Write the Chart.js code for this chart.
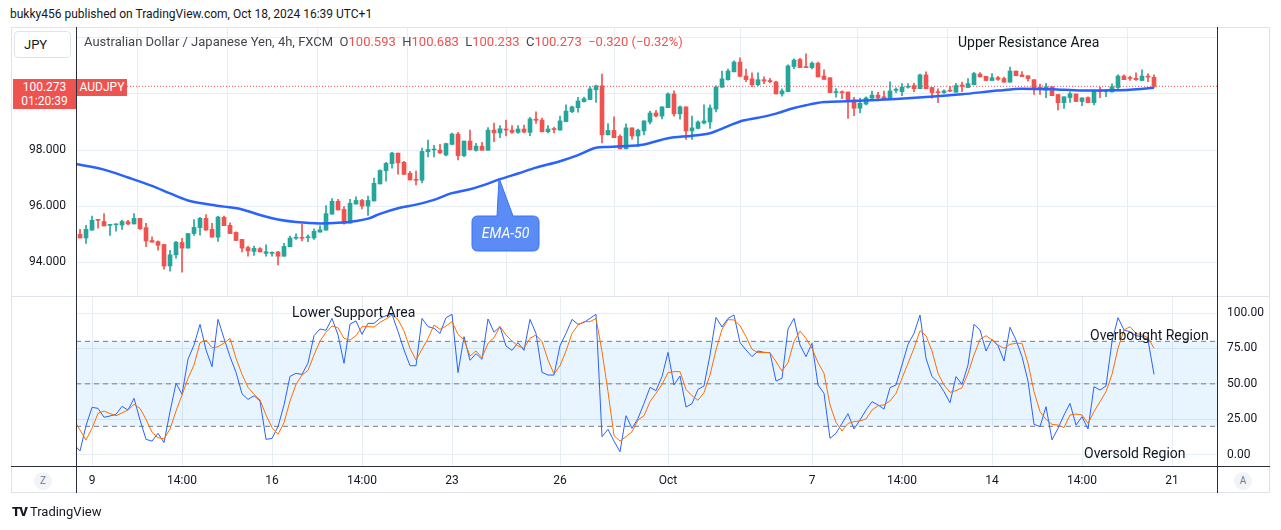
<!DOCTYPE html>
<html lang="en">
<head>
  <meta charset="UTF-8">
  <meta name="viewport" content="width=device-width, initial-scale=1.0">
  <title>AUDJPY 4h - EMA-50 / Stochastic</title>
  <script src="https://cdn.jsdelivr.net/npm/chart.js"></script>
  <style>
    body { margin: 0; background: #fff; font-family: Roboto, "Liberation Sans", Arial, sans-serif; color: #131722; }
    #stage { position: relative; width: 1281px; height: 530px; overflow: hidden; }
    .abs { position: absolute; white-space: nowrap; }
    .note { position: absolute; font-size: 14px; line-height: 16px; color: #131722; white-space: nowrap; }
    .red { color: #ef5350; }
    .btn { position: absolute; width: 18px; height: 18px; border-radius: 50%; background: #f0f3fa; color: #787b86; font-size: 10px; line-height: 18px; text-align: center; }
  </style>
</head>

<body>
  <div id="stage">
    <div class="abs" style="left:10px;top:6px;font-size:12px;line-height:16px;">bukky456 published on TradingView.com, Oct 18, 2024 16:39 UTC+1</div>

    <!-- outer frame -->
    <div class="abs" style="left:11px;top:27px;width:1259px;height:466px;border:1px solid #e0e3eb;box-sizing:border-box;"></div>

    <canvas id="priceChart" class="abs" width="1281" height="269" style="left:0;top:27px;"></canvas>
    <canvas id="stochChart" class="abs" width="1281" height="196" style="left:0;top:297px;"></canvas>

    <!-- pane borders -->
    <div class="abs" style="left:11px;top:296px;width:1259px;height:1px;background:#e0e3eb;"></div>
    <div class="abs" style="left:11px;top:466px;width:1259px;height:1px;background:#2a2e39;"></div>
    <div class="abs" style="left:76px;top:27px;width:1px;height:466px;background:#2a2e39;"></div>
    <div class="abs" style="left:1217px;top:27px;width:1px;height:466px;background:#2a2e39;"></div>

    <!-- symbol / legend -->
    <div class="abs" style="left:14px;top:31px;width:57px;height:27px;border:1px solid #e0e3eb;border-radius:4px;box-sizing:border-box;background:#fff;font-size:13px;line-height:25px;padding-left:9px;">JPY</div>
    <div class="abs" style="left:84px;top:34px;font-size:13px;line-height:16px;color:#434651;">Australian Dollar / Japanese Yen, 4h, FXCM&nbsp; O<span class="red">100.593</span>&nbsp; H<span class="red">100.683</span>&nbsp; L<span class="red">100.233</span>&nbsp; C<span class="red">100.273</span>&nbsp; <span class="red">−0.320 (−0.32%)</span></div>

    <!-- last price labels -->
    <div class="abs" style="left:13px;top:79px;width:63px;height:30px;background:#ef5350;color:#fff;font-size:12px;line-height:14px;text-align:center;padding-top:1px;box-sizing:border-box;">100.273<br>01:20:39</div>
    <div class="abs" style="left:77px;top:79px;width:50px;height:17px;background:#ef5350;color:#fff;font-size:12px;line-height:17px;text-align:center;">AUDJPY</div>

    <!-- annotations -->
    <div class="note" style="left:958px;top:34px;">Upper Resistance Area</div>
    <div class="note" style="left:292px;top:304px;">Lower Support Area</div>
    <div class="note" style="left:1090px;top:327px;">Overbought Region</div>
    <div class="note" style="left:1084px;top:445px;">Oversold Region</div>

    <svg class="abs" style="left:0;top:0;" width="1281" height="530">
      <path d="M478,216 H497 L499,178 L513,216 H533 Q539,216 539,222 V245 Q539,251 533,251 H478 Q472,251 472,245 V222 Q472,216 478,216 Z"
        fill="#5b8cf6" stroke="#3a72f2" stroke-width="1" />
    </svg>
    <div class="abs" style="left:472px;top:225px;width:67px;text-align:center;font-size:14px;line-height:17px;font-style:italic;color:#fff;">EMA-50</div>

    <!-- bottom buttons / logo -->
    <div class="btn" style="left:34px;top:472px;">Z</div>
    <div class="btn" style="left:1234px;top:472px;">A</div>
    <div class="abs" style="left:12px;top:504px;font-size:13px;line-height:16px;"><b style="font-weight:900;letter-spacing:-1px;">TV</b> TradingView</div>
  </div>

  <script>
    // candles, 4h, oldest first
    const OPEN = [94.99, 94.86, 95.14, 95.52, 95.45, 95.31, 95.33, 95.32, 95.44, 95.36,
      95.56, 95.23, 94.77, 94.73, 94.63, 93.86, 94.26, 94.70, 94.50, 95.02,
      95.23, 95.56, 95.17, 94.89, 95.60, 95.31, 95.06, 94.81, 94.52, 94.38,
      94.48, 94.31, 94.31, 94.36, 94.21, 94.55, 94.85, 94.88, 94.87, 94.86,
      95.07, 95.14, 95.71, 96.17, 95.88, 95.39, 96.07, 96.20, 96.00, 96.18,
      96.79, 97.26, 97.51, 97.89, 97.56, 97.17, 96.95, 96.92, 97.94, 98.00,
      98.00, 97.82, 98.20, 98.57, 97.80, 98.32, 97.99, 98.14, 97.99, 98.71,
      98.61, 98.75, 98.71, 98.63, 98.75, 98.63, 99.10, 99.07, 98.65, 98.75,
      98.71, 99.01, 99.37, 99.51, 99.73, 99.80, 100.15, 100.29, 98.54, 98.70,
      98.49, 98.04, 98.79, 98.50, 98.68, 99.00, 99.32, 99.21, 99.51, 100.00,
      99.29, 99.54, 98.68, 98.77, 98.96, 99.00, 99.46, 100.24, 100.51, 100.79,
      101.14, 100.64, 100.54, 100.33, 100.51, 100.48, 100.43, 100.00, 100.08, 100.98,
      101.23, 100.96, 100.94, 101.10, 100.64, 100.58, 100.05, 100.08, 100.07, 99.79,
      99.49, 99.64, 99.85, 99.96, 99.90, 99.82, 100.13, 100.08, 100.24, 100.30,
      100.19, 100.68, 100.23, 100.08, 100.05, 100.13, 100.06, 100.32, 100.23, 100.33,
      100.71, 100.63, 100.48, 100.58, 100.55, 100.42, 100.82, 100.68, 100.65, 100.51,
      100.24, 100.14, 100.26, 99.98, 99.69, 99.87, 100.00, 99.73, 99.87, 99.69,
      100.12, 100.08, 100.07, 100.23, 100.64, 100.58, 100.56, 100.48, 100.64, 100.593];
    const HIGH = [95.17, 95.31, 95.64, 95.53, 95.73, 95.33, 95.37, 95.50, 95.49, 95.73,
      95.56, 95.38, 94.90, 94.76, 94.63, 94.42, 94.74, 94.85, 95.02, 95.52,
      95.60, 95.70, 95.38, 95.63, 95.64, 95.40, 95.08, 94.81, 94.57, 94.57,
      94.52, 94.62, 94.37, 94.38, 94.67, 94.93, 95.01, 95.35, 94.97, 95.19,
      95.29, 96.02, 96.27, 96.24, 95.98, 96.24, 96.33, 96.24, 96.36, 97.00,
      97.29, 97.56, 97.92, 97.89, 97.60, 97.24, 97.25, 98.07, 98.35, 98.17,
      98.20, 98.25, 98.60, 98.63, 98.32, 98.71, 98.24, 98.27, 98.80, 98.96,
      98.87, 99.07, 98.87, 98.87, 98.89, 99.17, 99.36, 99.14, 98.87, 98.82,
      99.21, 99.61, 99.57, 99.88, 99.89, 100.26, 100.32, 100.71, 98.94, 99.18,
      98.54, 98.93, 98.79, 98.75, 99.04, 99.39, 99.42, 99.54, 100.04, 100.11,
      99.58, 99.54, 99.21, 99.04, 99.61, 99.61, 100.29, 100.82, 100.89, 101.18,
      101.29, 100.89, 100.75, 100.75, 100.61, 100.56, 100.46, 100.18, 101.04, 101.25,
      101.27, 101.43, 101.15, 101.14, 100.86, 100.58, 100.19, 100.11, 100.07, 99.88,
      99.85, 99.90, 100.10, 100.06, 100.10, 100.43, 100.22, 100.37, 100.37, 100.38,
      100.71, 100.79, 100.23, 100.18, 100.15, 100.27, 100.38, 100.42, 100.55, 100.77,
      100.76, 100.63, 100.73, 100.63, 100.60, 100.96, 100.82, 100.80, 100.65, 100.51,
      100.35, 100.38, 100.26, 99.98, 99.90, 100.08, 100.00, 99.86, 99.90, 100.12,
      100.25, 100.14, 100.36, 100.68, 100.68, 100.64, 100.75, 100.86, 100.73, 100.683];
    const LOW = [94.86, 94.67, 95.14, 95.21, 95.29, 94.95, 95.10, 95.17, 95.33, 95.36,
      95.17, 94.55, 94.71, 94.43, 93.75, 93.68, 94.14, 93.64, 94.50, 94.95,
      94.96, 95.14, 94.89, 94.74, 95.30, 95.02, 94.77, 94.36, 94.21, 94.24,
      94.36, 94.21, 94.21, 93.90, 94.21, 94.55, 94.81, 94.76, 94.73, 94.81,
      95.07, 95.14, 95.71, 95.86, 95.35, 95.39, 96.07, 95.90, 95.67, 96.18,
      96.79, 96.89, 97.35, 97.14, 97.13, 96.93, 96.75, 96.83, 97.75, 97.75,
      97.87, 97.79, 98.20, 97.65, 97.76, 97.99, 97.96, 97.99, 97.99, 98.30,
      98.44, 98.50, 98.59, 98.59, 98.61, 98.51, 98.95, 98.65, 98.61, 98.61,
      98.71, 99.01, 99.33, 99.35, 99.71, 99.80, 99.70, 98.25, 98.54, 98.44,
      98.04, 98.04, 98.39, 98.12, 98.54, 98.93, 99.18, 99.11, 99.51, 99.21,
      99.10, 98.38, 98.38, 98.75, 98.93, 98.77, 99.36, 100.24, 100.49, 100.79,
      100.61, 100.44, 100.26, 100.29, 100.37, 100.39, 100.00, 99.92, 100.08, 100.90,
      100.94, 100.94, 100.89, 100.61, 100.52, 100.05, 99.89, 99.83, 99.13, 99.23,
      99.32, 99.61, 99.83, 99.75, 99.83, 99.82, 100.05, 99.94, 100.21, 100.08,
      100.19, 100.19, 99.85, 99.69, 100.02, 100.08, 100.06, 100.08, 100.23, 100.33,
      100.61, 100.48, 100.48, 100.48, 100.42, 100.42, 100.65, 100.62, 100.46, 99.98,
      99.98, 99.87, 99.94, 99.43, 99.48, 99.70, 99.73, 99.58, 99.69, 99.61,
      99.87, 99.90, 100.07, 100.12, 100.51, 100.48, 100.48, 100.48, 100.44, 100.233];
    const CLOSE = [94.86, 95.17, 95.49, 95.49, 95.29, 95.33, 95.35, 95.45, 95.36, 95.56,
      95.19, 94.75, 94.71, 94.60, 93.86, 94.26, 94.71, 94.50, 95.02, 95.24,
      95.56, 95.14, 94.89, 95.61, 95.30, 95.02, 94.77, 94.50, 94.40, 94.49,
      94.36, 94.37, 94.35, 94.21, 94.56, 94.86, 94.89, 94.85, 94.90, 95.10,
      95.15, 95.73, 96.17, 95.86, 95.38, 96.10, 96.20, 96.00, 96.20, 96.81,
      97.27, 97.52, 97.89, 97.54, 97.13, 96.93, 96.92, 97.95, 98.02, 98.02,
      97.90, 98.23, 98.57, 97.80, 98.32, 98.01, 98.14, 97.99, 98.71, 98.61,
      98.76, 98.71, 98.63, 98.75, 98.64, 99.11, 99.06, 98.65, 98.75, 98.73,
      99.04, 99.39, 99.54, 99.75, 99.83, 100.18, 100.29, 98.54, 98.70, 98.44,
      98.04, 98.79, 98.50, 98.71, 99.04, 99.32, 99.21, 99.54, 100.00, 99.29,
      99.54, 98.68, 98.79, 99.00, 99.04, 99.50, 100.25, 100.54, 100.82, 101.14,
      100.63, 100.51, 100.33, 100.51, 100.46, 100.44, 100.00, 100.11, 101.00, 101.21,
      100.94, 100.94, 101.10, 100.61, 100.52, 100.05, 100.08, 100.04, 99.79, 99.49,
      99.67, 99.86, 99.96, 99.87, 99.83, 100.11, 100.17, 100.25, 100.27, 100.19,
      100.68, 100.19, 100.05, 100.05, 100.11, 100.10, 100.30, 100.27, 100.37, 100.73,
      100.61, 100.48, 100.58, 100.52, 100.42, 100.82, 100.65, 100.62, 100.55, 100.15,
      100.19, 100.26, 99.94, 99.69, 99.90, 100.01, 99.73, 99.86, 99.69, 100.12,
      100.08, 100.12, 100.26, 100.64, 100.51, 100.55, 100.51, 100.64, 100.60, 100.273];
    const LAST_PRICE = 100.273;

    // EMA-50 at these candle positions
    const EMA_X = [-0.67, 4, 8, 12, 15, 18, 21, 24, 27, 30, 33, 36, 40, 43, 46, 48, 50, 53, 56, 59,
      62, 65, 67, 70, 73, 76, 80, 83, 86, 88, 90, 94, 98, 102, 105, 108, 110, 113, 116, 119,
      121, 124, 128, 132, 136, 141, 147, 153, 157, 162, 167, 172, 175, 179];
    const EMA_Y = [97.50, 97.30, 97.02, 96.72, 96.45, 96.20, 96.07, 95.98, 95.88, 95.68, 95.52, 95.43, 95.38, 95.40, 95.47, 95.55, 95.72, 95.92, 96.05, 96.22,
      96.46, 96.60, 96.73, 96.96, 97.16, 97.37, 97.60, 97.82, 98.08, 98.11, 98.13, 98.20, 98.42, 98.51, 98.60, 98.85, 99.02, 99.15, 99.30, 99.50,
      99.60, 99.71, 99.74, 99.78, 99.82, 99.89, 99.99, 100.12, 100.19, 100.17, 100.12, 100.13, 100.15, 100.22];

    // stochastic, first value belongs to the candle just left of the view
    const STOCH_START = -1;
    const STOCH_K = [7.1,
      2.6, 20.5, 33.4, 32.7, 26.4, 27.3, 28.5, 34.1, 31.5, 39.8,
      24.5, 10.8, 9.6, 15.1, 8.5, 30.4, 50.4, 42.6, 67.5, 77.4,
      92.0, 73.9, 62.1, 95.5, 82.1, 69.2, 58.1, 43.0, 39.0, 41.6,
      37.9, 10.8, 11.5, 19.8, 35.1, 55.3, 57.4, 56.7, 64.7, 84.0,
      88.7, 87.8, 96.2, 84.5, 64.5, 92.2, 94.4, 84.9, 92.7, 92.7,
      96.2, 98.1, 99.1, 87.0, 73.9, 62.8, 62.8, 96.2, 90.4, 89.2,
      85.6, 96.7, 99.1, 57.9, 83.3, 66.6, 71.3, 67.3, 95.8, 86.4,
      90.4, 76.7, 73.6, 79.1, 73.6, 95.5, 85.6, 58.1, 56.2, 56.2,
      76.9, 85.6, 95.5, 92.0, 93.4, 96.2, 99.1, 12.7, 17.9, 9.6,
      2.1, 27.5, 18.6, 25.6, 36.2, 47.5, 45.2, 55.1, 72.2, 49.2,
      55.5, 33.6, 36.0, 46.1, 48.5, 70.4, 96.9, 90.1, 96.2, 98.6,
      79.1, 73.9, 69.2, 73.2, 72.2, 72.0, 52.0, 53.9, 88.7, 96.2,
      77.4, 69.2, 78.6, 49.2, 43.3, 11.5, 15.1, 22.1, 28.9, 18.1,
      24.5, 31.5, 37.4, 35.1, 32.2, 47.3, 49.2, 63.3, 77.9, 85.6,
      98.6, 68.0, 55.1, 51.1, 44.5, 36.7, 55.1, 49.6, 63.3, 92.0,
      88.0, 73.2, 81.4, 76.9, 66.1, 89.9, 80.9, 69.2, 52.0, 21.4,
      19.8, 33.9, 10.4, 18.6, 28.0, 36.2, 20.9, 26.8, 18.1, 48.0,
      45.6, 48.5, 79.8, 96.7, 88.0, 86.8, 84.0, 83.3, 80.9, 56.7];
    const STOCH_D = [24.3,
      17.4, 10.4, 18.6, 29.2, 30.8, 29.0, 27.5, 29.5, 31.5, 35.5,
      32.7, 24.9, 15.8, 12.0, 11.1, 18.1, 30.8, 42.1, 53.9, 63.3,
      79.1, 80.9, 75.5, 76.2, 78.8, 82.1, 68.0, 56.7, 47.5, 42.6,
      38.6, 28.0, 19.1, 14.4, 22.6, 37.9, 49.6, 56.2, 59.5, 70.4,
      80.2, 86.4, 90.8, 89.6, 82.1, 80.9, 84.0, 90.4, 90.4, 90.1,
      93.4, 95.8, 98.6, 95.5, 87.3, 75.1, 66.8, 74.4, 82.1, 91.5,
      88.5, 90.8, 93.9, 84.9, 80.9, 69.6, 73.2, 68.5, 78.6, 82.6,
      90.4, 84.5, 80.2, 76.7, 75.1, 82.1, 84.5, 79.8, 66.8, 56.9,
      62.8, 73.2, 85.6, 91.5, 93.9, 93.9, 96.2, 72.7, 44.5, 13.4,
      9.6, 12.7, 16.2, 24.5, 27.5, 37.4, 43.3, 49.6, 57.9, 58.6,
      58.6, 46.1, 41.6, 38.4, 43.8, 56.2, 73.9, 88.5, 95.3, 95.1,
      91.1, 83.3, 74.4, 72.0, 72.2, 72.0, 65.6, 59.1, 64.9, 79.8,
      87.3, 82.1, 75.1, 65.0, 57.4, 35.1, 22.8, 16.7, 22.1, 23.3,
      23.8, 25.2, 31.5, 34.6, 35.1, 37.9, 43.3, 53.9, 64.5, 75.1,
      87.5, 84.0, 73.2, 57.4, 49.2, 44.0, 45.2, 47.3, 57.4, 70.4,
      81.4, 84.0, 80.9, 77.4, 75.1, 77.9, 78.6, 78.6, 64.5, 44.5,
      30.4, 24.9, 21.4, 20.9, 19.1, 28.0, 28.7, 28.0, 22.1, 30.4,
      37.4, 44.5, 56.7, 75.1, 88.0, 90.4, 85.6, 84.5, 82.6, 75.1];

    const TIME_TICKS = [2, 17, 32, 47, 62, 80, 98, 122, 137, 152, 167, 182];
    const TIME_LABELS = ['9', '14:00', '16', '14:00', '23', '26', 'Oct', '7', '14:00', '14', '14:00', '21'];
    const PRICE_TICKS = [94, 96, 98, 100, 102];
    const STOCH_TICKS = [0, 25, 50, 75, 100];
    const STOCH_LEVELS = [80, 50, 20];

    // view range
    const X_MIN = -0.67, X_MAX = 189.5;
    const UP = '#26a69a', DOWN = '#ef5350', GRID = '#e6edf3';
    const FONT = 'Roboto, "Liberation Sans", Arial, sans-serif';
    Chart.defaults.font.family = FONT;
    Chart.defaults.color = '#131722';

    const candleColor = ctx => CLOSE[ctx.dataIndex] >= OPEN[ctx.dataIndex] ? UP : DOWN;
    const flatPad = s => { s.paddingTop = 0; s.paddingBottom = 0; s.paddingLeft = 0; s.paddingRight = 0; };

    // price pane
    new Chart(document.getElementById('priceChart'), {
      type: 'bar',
      data: {
        datasets: [
          {
            type: 'line', label: 'EMA-50',
            data: EMA_X.map((x, k) => ({ x, y: EMA_Y[k] })),
            borderColor: '#2962ff', borderWidth: 2.5, pointRadius: 0,
            cubicInterpolationMode: 'monotone', clip: 0, order: 0
          },
          {
            label: 'body',
            data: OPEN.map((o, i) => ({ x: i, y: [o, CLOSE[i]] })),
            backgroundColor: candleColor, barThickness: 4, minBarLength: 1, grouped: false, order: 1
          },
          {
            label: 'wick',
            data: LOW.map((l, i) => ({ x: i, y: [l, HIGH[i]] })),
            backgroundColor: candleColor, barThickness: 1, grouped: false, order: 2
          },
          {
            type: 'line', label: 'last',
            data: [{ x: X_MIN, y: LAST_PRICE }, { x: X_MAX, y: LAST_PRICE }],
            borderColor: DOWN, borderWidth: 1, borderDash: [1, 2], pointRadius: 0, order: 3
          }
        ]
      },
      options: {
        responsive: false,
        animation: false,
        layout: { padding: { left: 0, right: 64, top: 0, bottom: 0 } },
        plugins: { legend: { display: false }, tooltip: { enabled: false } },
        scales: {
          x: {
            type: 'linear', min: X_MIN, max: X_MAX, offset: false,
            afterBuildTicks: s => { s.ticks = TIME_TICKS.map(v => ({ value: v })); },
            ticks: { display: false },
            grid: { color: GRID, drawTicks: false },
            border: { display: false },
            afterFit: s => { s.height = 0; flatPad(s); }
          },
          y: {
            position: 'left', min: 92.79, max: 102.39,
            afterBuildTicks: s => { s.ticks = PRICE_TICKS.map(v => ({ value: v })); },
            ticks: {
              padding: 10, color: '#131722', font: { size: 12 },
              callback: v => (v >= 100 ? '' : v.toFixed(3))
            },
            grid: { color: GRID, drawTicks: false },
            border: { display: false },
            afterFit: s => { s.width = 76; flatPad(s); }
          }
        }
      }
    });

    // stochastic pane
    const kPoints = STOCH_K.map((v, k) => ({ x: STOCH_START + k, y: v }));
    const dPoints = STOCH_D.map((v, k) => ({ x: STOCH_START + k, y: v }));
    const levelLine = lvl => [{ x: X_MIN, y: lvl }, { x: X_MAX, y: lvl }];

    new Chart(document.getElementById('stochChart'), {
      type: 'line',
      data: {
        datasets: [
          { label: '%D', data: dPoints, borderColor: '#ff6d00', borderWidth: 1, pointRadius: 0, clip: 0, order: 0 },
          { label: '%K', data: kPoints, borderColor: '#2962ff', borderWidth: 1, pointRadius: 0, clip: 0, order: 1 },
          { label: 'upper', data: levelLine(STOCH_LEVELS[0]), borderColor: '#787b86', borderWidth: 1, borderDash: [5, 4], pointRadius: 0, order: 2 },
          {
            label: 'lower', data: levelLine(STOCH_LEVELS[2]), borderColor: '#787b86', borderWidth: 1, borderDash: [5, 4], pointRadius: 0,
            fill: '-1', backgroundColor: 'rgba(33,150,243,0.1)', order: 4
          },
          { label: 'middle', data: levelLine(STOCH_LEVELS[1]), borderColor: '#787b86', borderWidth: 1, borderDash: [5, 4], pointRadius: 0, order: 3 }
        ]
      },
      options: {
        responsive: false,
        animation: false,
        layout: { padding: { left: 76, right: 0, top: 0, bottom: 0 } },
        plugins: { legend: { display: false }, tooltip: { enabled: false } },
        scales: {
          x: {
            type: 'linear', min: X_MIN, max: X_MAX, offset: false,
            afterBuildTicks: s => { s.ticks = TIME_TICKS.map(v => ({ value: v })); },
            ticks: {
              autoSkip: false, maxRotation: 0, padding: 8, color: '#131722', font: { size: 12 },
              callback: (v, i) => TIME_LABELS[i]
            },
            grid: { color: GRID, drawTicks: false },
            border: { display: false },
            afterFit: s => { s.height = 27; flatPad(s); }
          },
          y: {
            position: 'right', min: -8, max: 111.3,
            afterBuildTicks: s => { s.ticks = STOCH_TICKS.map(v => ({ value: v })); },
            ticks: { padding: 10, color: '#131722', font: { size: 12 }, callback: v => v.toFixed(2) },
            grid: { color: GRID, drawTicks: false },
            border: { display: false },
            afterFit: s => { s.width = 64; flatPad(s); }
          }
        }
      }
    });
  </script>
</body>

</html>
